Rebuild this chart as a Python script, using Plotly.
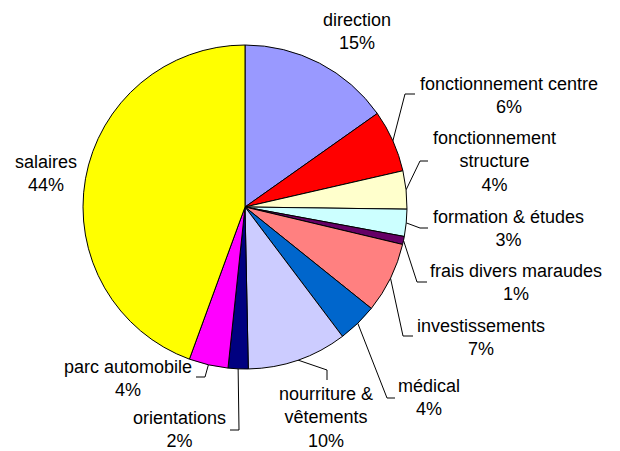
import math
import plotly.graph_objects as go

# ---- data ----
categories = ["direction", "fonctionnement centre", "fonctionnement structure",
              "formation & études", "frais divers maraudes", "investissements",
              "médical", "nourriture & vêtements", "orientations",
              "parc automobile", "salaires"]
values = [15.2, 6.2, 3.8, 2.7, 0.8, 7.05, 3.95, 9.95, 2.0, 3.9, 44.4]
label_lines = ["direction", "fonctionnement centre", "fonctionnement<br>structure",
               "formation & études", "frais divers maraudes", "investissements",
               "médical", "nourriture &<br>vêtements", "orientations",
               "parc automobile", "salaires"]

# ---- styles / layout ----
colors = ["#9999FF", "#FF0000", "#FFFFCC", "#CCFFFF", "#660066", "#FF8080",
          "#0066CC", "#CCCCFF", "#000080", "#FF00FF", "#FFFF00"]
W, H = 620, 451
OFF = 8  # page body margin
CX, CY, R = 245, 207, 162  # pie centre/radius in page pixels
FONT = "Liberation Sans, Arial, sans-serif"

# label text centres (page pixels)
label_pos = [(357, 31), (509, 95), (494, 161), (508, 228), (516, 282), (481, 337),
             (429, 397), (326, 417), (179, 429), (128, 378), (46, 173)]
# leader line extra points (after the slice-edge point); None = no leader
leader_pts = [None, [(405, 94), (415, 94)], [(420, 161), (428, 161)],
              [(420, 228), (428, 228)], [(417, 282), (427, 282)],
              [(403, 336), (413, 336)], [(387, 398), (395, 398)],
              [(327, 370), (327, 380)], [(239, 430), (230, 430)],
              [(205, 377), (196, 377)], None]

fcx, fcy = CX - OFF, CY - OFF
fig = go.Figure()
fig.add_trace(go.Pie(
    labels=categories, values=values, sort=False, direction="clockwise",
    rotation=0, textinfo="none", hoverinfo="label+percent",
    marker=dict(colors=colors, line=dict(color="black", width=1)),
    domain=dict(x=[(fcx - R) / W, (fcx + R) / W],
                y=[(H - fcy - R) / H, (H - fcy + R) / H]),
    showlegend=False,
))

total = sum(values)
cum = 0.0
lx, ly = [], []
annotations = []
for i, v in enumerate(values):
    mid = (cum + v / 2) / total * 2 * math.pi
    cum += v
    ex = CX + R * math.sin(mid)
    ey = CY - R * math.cos(mid)
    if leader_pts[i]:
        pts = [(ex, ey)] + leader_pts[i]
        lx += [p[0] for p in pts] + [None]
        ly += [p[1] for p in pts] + [None]
    pct = round(v / total * 100)
    annotations.append(dict(
        x=label_pos[i][0], y=label_pos[i][1], xref="x", yref="y",
        text=f"{label_lines[i]}<br>{pct}%", showarrow=False,
        xanchor="center", yanchor="middle", align="center",
        font=dict(family=FONT, size=18, color="black")))

fig.add_trace(go.Scatter(x=lx, y=ly, mode="lines",
                         line=dict(color="black", width=1),
                         hoverinfo="skip", showlegend=False))

fig.update_layout(
    width=W, height=H, margin=dict(l=0, r=0, t=0, b=0),
    paper_bgcolor="white", plot_bgcolor="rgba(0,0,0,0)",
    xaxis=dict(range=[OFF, W + OFF], visible=False, fixedrange=True),
    yaxis=dict(range=[H + OFF, OFF], visible=False, fixedrange=True),
    annotations=annotations,
)
fig.write_html("out.html")
